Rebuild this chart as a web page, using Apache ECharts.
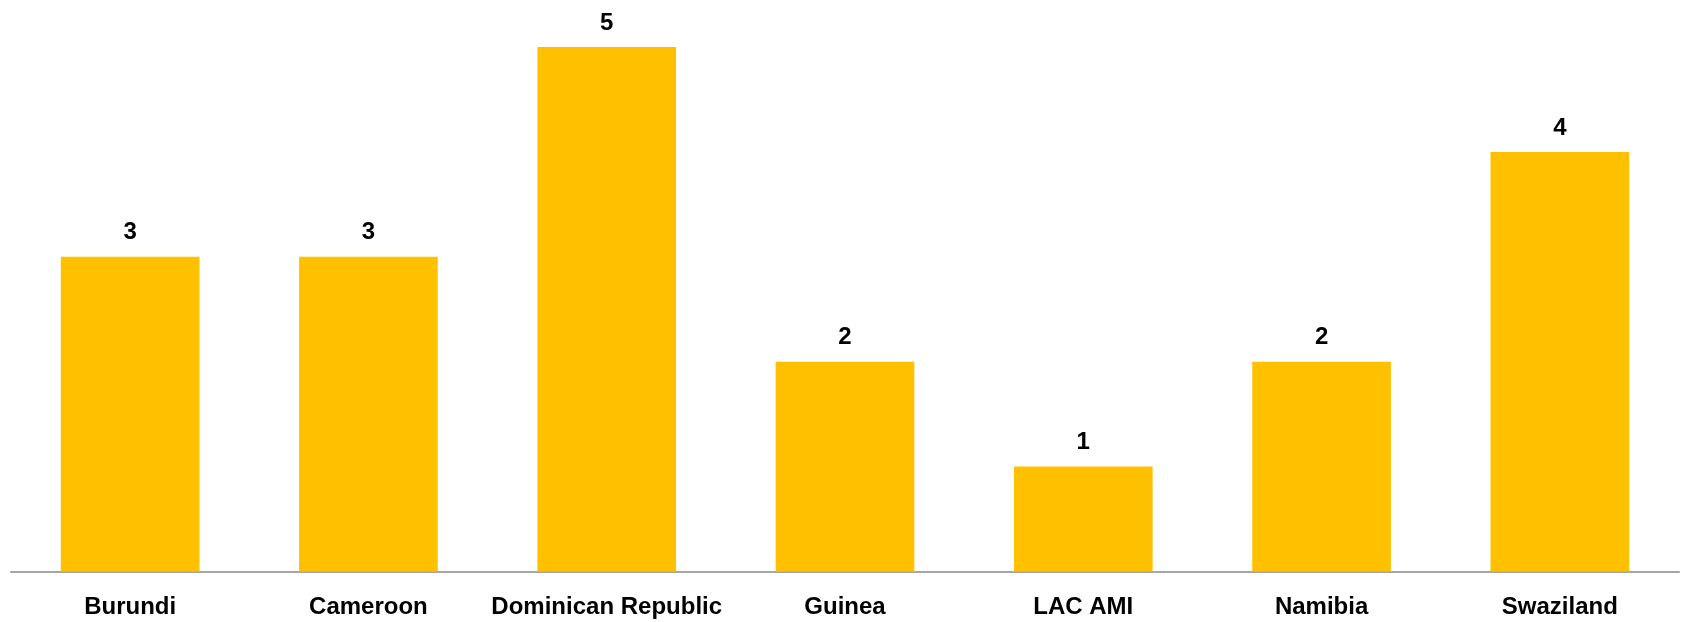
<!DOCTYPE html>
<html>
<head>
<meta charset="utf-8">
<script src="https://cdn.jsdelivr.net/npm/echarts@6/dist/echarts.min.js"></script>
<style>
html,body{margin:0;padding:0;background:#fff;}
#chart{width:1681px;height:622px;}
</style>
</head>
<body>
<div id="chart"></div>
<script>
const categories = ["Burundi", "Cameroon", "Dominican Republic", "Guinea", "LAC AMI", "Namibia", "Swaziland"];
const values = [3, 3, 5, 2, 1, 2, 4];

const chart = echarts.init(document.getElementById('chart'), null, {renderer: 'canvas'});
chart.setOption({
  animation: false,
  grid: {left: 11, right: 2, top: 47, bottom: 50.5, containLabel: false},
  xAxis: {
    type: 'category',
    data: categories,
    axisLine: {show: true, lineStyle: {color: '#a6a6a6', width: 2}},
    axisTick: {show: false},
    axisLabel: {
      interval: 0,
      margin: 24,
      color: '#000',
      fontFamily: 'Liberation Sans',
      fontWeight: 'bold',
      fontSize: 24
    }
  },
  yAxis: {
    type: 'value',
    min: 0,
    max: 5,
    show: false,
    splitLine: {show: false}
  },
  series: [{
    type: 'bar',
    data: values,
    barCategoryGap: '41.8%',
    itemStyle: {color: '#FFC000'},
    label: {
      show: true,
      position: 'top',
      distance: 12,
      color: '#000',
      fontFamily: 'Liberation Sans',
      fontWeight: 'bold',
      fontSize: 24
    }
  }]
});
</script>
</body>
</html>
